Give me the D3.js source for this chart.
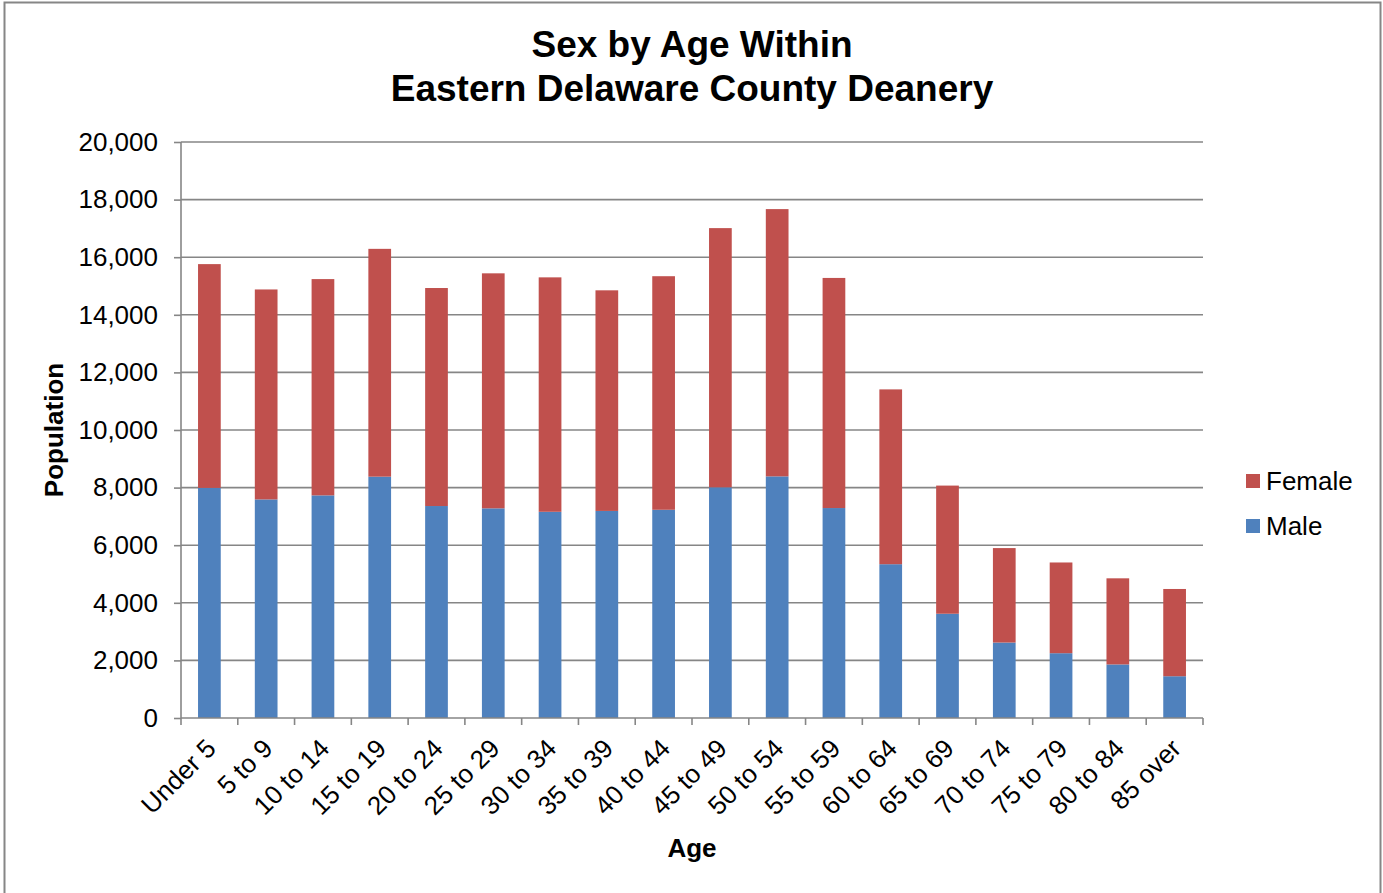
<!DOCTYPE html>
<html>
<head>
<meta charset="utf-8">
<script src="https://cdn.jsdelivr.net/npm/d3@7"></script>
<style>
  html, body { margin: 0; padding: 0; background: #fff; }
  svg { display: block; font-family: "Liberation Sans", Arial, sans-serif; }
</style>
</head>
<body>
<svg id="chart" width="1383" height="893"></svg>
<script>
const categories = ["Under 5","5 to 9","10 to 14","15 to 19","20 to 24","25 to 29","30 to 34","35 to 39","40 to 44","45 to 49","50 to 54","55 to 59","60 to 64","65 to 69","70 to 74","75 to 79","80 to 84","85 over"];
const male   = [7990,7590,7730,8380,7360,7280,7160,7190,7230,8010,8390,7290,5340,3620,2620,2250,1860,1450];
const female = [7770,7290,7510,7910,7570,8160,8140,7660,8110,9000,9280,7990,6070,4450,3280,3150,2990,3030];
const yTicks = [0,2000,4000,6000,8000,10000,12000,14000,16000,18000,20000];
const seriesNames = ["Male","Female"];
const seriesColors = ["#4F81BD","#C0504D"];
const titleLines = ["Sex by Age Within","Eastern Delaware County Deanery"];

const svg = d3.select("#chart");
const plot = {left: 181, right: 1203, top: 142, bottom: 718};

// outer border
svg.append("rect").attr("x",4.5).attr("y",2.5).attr("width",1376).attr("height",900)
  .attr("fill","none").attr("stroke","#868686").attr("stroke-width",2);

const x = d3.scaleBand().domain(categories).range([plot.left, plot.right])
  .paddingInner(0.6).paddingOuter(0.3);
const y = d3.scaleLinear().domain([0,20000]).range([plot.bottom, plot.top]);

// gridlines
svg.append("g").selectAll("line").data(yTicks.filter(d=>d>0)).join("line")
  .attr("x1",plot.left).attr("x2",plot.right)
  .attr("y1",d=>y(d)).attr("y2",d=>y(d))
  .attr("stroke","#868686").attr("stroke-width",1.6);

// stacked data
const rows = categories.map((c,i)=>({cat:c, Male:male[i], Female:female[i]}));
const stack = d3.stack().keys(seriesNames)(rows);
svg.append("g").selectAll("g").data(stack).join("g")
  .attr("fill",(d,i)=>seriesColors[i])
  .selectAll("rect").data(d=>d).join("rect")
  .attr("x",d=>x(d.data.cat))
  .attr("width",x.bandwidth())
  .attr("y",d=>y(d[1]))
  .attr("height",d=>y(d[0])-y(d[1]));

// y axis
const yAxis = d3.axisLeft(y).tickValues(yTicks).tickSize(7).tickPadding(16)
  .tickFormat(d3.format(","));
const gy = svg.append("g").attr("transform",`translate(${plot.left},0)`).call(yAxis);
gy.select(".domain").attr("stroke","#868686").attr("stroke-width",1.6).attr("d",`M0,${plot.top}V${plot.bottom}`);
gy.selectAll(".tick line").attr("stroke","#868686").attr("stroke-width",1.6);
gy.selectAll(".tick text").attr("font-size",26).attr("fill","#000")
  .attr("font-family","'Liberation Sans', Arial, sans-serif");

// x axis: ticks at band boundaries
const boundaries = d3.range(categories.length+1).map(i=>plot.left + i*(plot.right-plot.left)/categories.length);
const gx = svg.append("g");
gx.append("line").attr("x1",plot.left).attr("x2",plot.right).attr("y1",plot.bottom).attr("y2",plot.bottom)
  .attr("stroke","#868686").attr("stroke-width",1.6);
gx.selectAll("line.t").data(boundaries).join("line").attr("class","t")
  .attr("x1",d=>d).attr("x2",d=>d).attr("y1",plot.bottom).attr("y2",plot.bottom+7)
  .attr("stroke","#868686").attr("stroke-width",1.6);
gx.selectAll("text").data(categories).join("text")
  .attr("transform",d=>`translate(${x(d)+x.bandwidth()/2+8},${plot.bottom+32}) rotate(-45)`)
  .attr("text-anchor","end")
  .attr("font-size",26).attr("fill","#000")
  .text(d=>d);

// title
svg.append("text").attr("x",692).attr("text-anchor","middle")
  .attr("font-size",37).attr("font-weight","bold")
  .selectAll("tspan").data(titleLines).join("tspan")
  .attr("x",692).attr("y",(d,i)=>57+i*44).text(d=>d);

// axis titles
svg.append("text").attr("transform","translate(63,430) rotate(-90)")
  .attr("text-anchor","middle").attr("font-size",26).attr("font-weight","bold").text("Population");
svg.append("text").attr("x",692).attr("y",857).attr("text-anchor","middle")
  .attr("font-size",26).attr("font-weight","bold").text("Age");

// legend (Female on top)
const legendItems = [{name:"Female", color:seriesColors[1]},{name:"Male", color:seriesColors[0]}];
const lg = svg.append("g").selectAll("g").data(legendItems).join("g")
  .attr("transform",(d,i)=>`translate(1246,${474+i*45})`);
lg.append("rect").attr("width",14).attr("height",14).attr("fill",d=>d.color);
lg.append("text").attr("x",20).attr("y",16).attr("font-size",26).attr("fill","#000").text(d=>d.name);
</script>
</body>
</html>
